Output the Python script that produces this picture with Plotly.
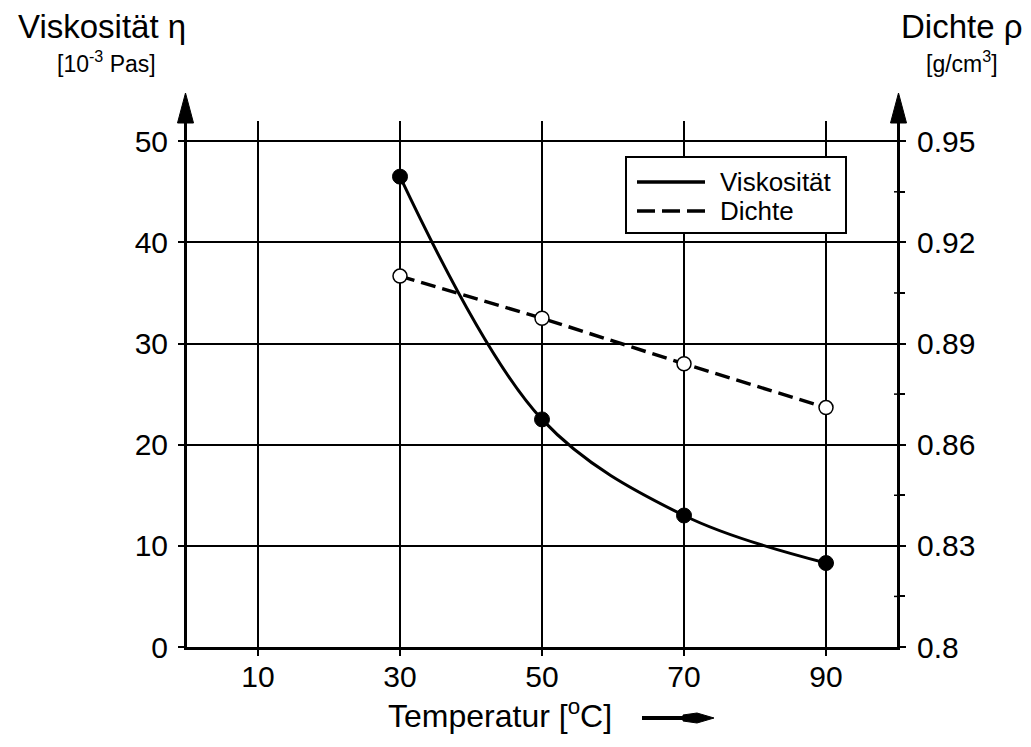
import plotly.graph_objects as go

# ---- data ----
temperature = [30, 50, 70, 90]
viscosity = [46.5, 22.5, 13.0, 8.3]          # 10^-3 Pas
density = [0.910, 0.8975, 0.884, 0.871]      # g/cm^3
x_ticks = [10, 30, 50, 70, 90]
y_ticks = [0, 10, 20, 30, 40, 50]
y2_ticks = [0.8, 0.83, 0.86, 0.89, 0.92, 0.95]
y2_labels = ["0.8", "0.83", "0.86", "0.89", "0.92", "0.95"]
y2_minor = [0.815, 0.845, 0.875, 0.905, 0.935]

FONT = "Liberation Sans, Arial, Helvetica, sans-serif"
OFF = 8                      # page body margin of the html page
W, H = 1031 - OFF, 747 - OFF
# reference-pixel geometry of the plot area
X_LEFT, X_RIGHT, Y_TOP, Y_BOTTOM = 187, 897, 121, 647
ML, MT = X_LEFT - OFF, Y_TOP - OFF
MR, MB = W - (X_RIGHT - OFF), H - (Y_BOTTOM - OFF)
PW, PH = X_RIGHT - X_LEFT, Y_BOTTOM - Y_TOP


def px(x):
    return (x - X_LEFT) / PW


def py(y):
    return (Y_BOTTOM - y) / PH


DASH = "15px,7px"

fig = go.Figure()
fig.add_trace(go.Scatter(
    x=temperature, y=viscosity, mode="lines", name="Viskosität",
    line=dict(color="black", width=3, shape="spline", smoothing=1.0),
    showlegend=False))
fig.add_trace(go.Scatter(
    x=temperature, y=density, mode="lines", name="Dichte", yaxis="y2",
    line=dict(color="black", width=3.5, dash=DASH), showlegend=False))
fig.add_trace(go.Scatter(
    x=temperature, y=viscosity, mode="markers", showlegend=False,
    marker=dict(color="black", size=15, line=dict(color="black", width=1))))
fig.add_trace(go.Scatter(
    x=temperature, y=density, mode="markers", yaxis="y2", showlegend=False,
    marker=dict(color="white", size=14, line=dict(color="black", width=1.5))))

axis_common = dict(
    showline=True, linecolor="black", linewidth=3, zeroline=False,
    ticks="outside", ticklen=6, tickwidth=2, tickcolor="black",
    tickfont=dict(family=FONT, size=30, color="black"),
)

fig.update_layout(
    width=W, height=H,
    margin=dict(l=ML, r=MR, t=MT, b=MB, pad=0),
    paper_bgcolor="white", plot_bgcolor="white",
    showlegend=False,
    xaxis=dict(range=[0, 100], tickvals=x_ticks, showgrid=True,
               gridcolor="black", gridwidth=2, ticklabelstandoff=-5,
               **axis_common),
    yaxis=dict(range=[0, 52], tickvals=y_ticks, showgrid=True,
               gridcolor="black", gridwidth=2, ticklabelstandoff=4,
               **axis_common),
    yaxis2=dict(range=[0.8, 0.8 + 52 * 0.003], overlaying="y", side="right",
                tickvals=y2_ticks, ticktext=y2_labels, showgrid=False,
                ticklabelstandoff=5,
                minor=dict(tickvals=y2_minor, ticks="outside", ticklen=5,
                           tickwidth=1.5, tickcolor="black"),
                **axis_common),
)

shapes = []
# axis extensions with arrowheads
for ax_px in (185.5, 898.5):
    xp = px(ax_px)
    shapes.append(dict(type="line", xref="paper", yref="paper",
                       x0=xp, x1=xp, y0=1.0, y1=py(110),
                       line=dict(color="black", width=3)))
    shapes.append(dict(type="path", xref="paper", yref="paper",
                       path=f"M {xp} {py(93)} L {px(ax_px - 8)} {py(123)} "
                            f"L {px(ax_px + 8)} {py(123)} Z",
                       fillcolor="black", line=dict(color="black", width=1)))
# minor ticks crossing the right axis (inner half)
for v in y2_minor:
    yy = py(Y_BOTTOM - (v - 0.8) / 0.003 * PH / 52)
    shapes.append(dict(type="line", xref="paper", yref="paper",
                       x0=px(894), x1=px(898), y0=yy, y1=yy,
                       line=dict(color="black", width=1.5)))
# x title arrow
ya = 718
shapes.append(dict(type="line", xref="paper", yref="paper",
                   x0=px(642), x1=px(690), y0=py(ya), y1=py(ya),
                   line=dict(color="black", width=4)))
shapes.append(dict(type="path", xref="paper", yref="paper",
                   path=f"M {px(683)} {py(ya - 3)} L {px(697)} {py(ya - 5)} "
                        f"L {px(714)} {py(ya)} L {px(697)} {py(ya + 5)} "
                        f"L {px(683)} {py(ya + 3)} Z",
                   fillcolor="black", line=dict(color="black", width=1)))
# legend box
shapes.append(dict(type="rect", xref="paper", yref="paper",
                   x0=px(626), x1=px(846), y0=py(233), y1=py(157),
                   fillcolor="white", line=dict(color="black", width=2)))
shapes.append(dict(type="line", xref="paper", yref="paper",
                   x0=px(637), x1=px(705), y0=py(182), y1=py(182),
                   line=dict(color="black", width=3.5)))
shapes.append(dict(type="line", xref="paper", yref="paper",
                   x0=px(637), x1=px(705), y0=py(211), y1=py(211),
                   line=dict(color="black", width=3.5, dash="18px,7px")))
fig.update_layout(shapes=shapes)

annotations = [
    dict(text="Viskosität η", x=px(102), y=py(27), size=33),
    dict(text="[10<sup>-3</sup> Pas]", x=px(106), y=py(62), size=23),
    dict(text="Dichte ρ", x=px(961), y=py(27), size=33),
    dict(text="[g/cm<sup>3</sup>]", x=px(962), y=py(62), size=23),
    dict(text="Temperatur [<sup>o</sup>C]", x=px(500), y=py(714), size=32),
]
for a in annotations:
    fig.add_annotation(text=a["text"], x=a["x"], y=a["y"], xref="paper",
                       yref="paper", showarrow=False, xanchor="center",
                       yanchor="middle",
                       font=dict(family=FONT, size=a["size"], color="black"))
for label, yy in (("Viskosität", 182), ("Dichte", 211)):
    fig.add_annotation(text=label, x=px(718), y=py(yy), xref="paper",
                       yref="paper", showarrow=False, xanchor="left",
                       yanchor="middle",
                       font=dict(family=FONT, size=26, color="black"))

fig.write_html("out.html")
